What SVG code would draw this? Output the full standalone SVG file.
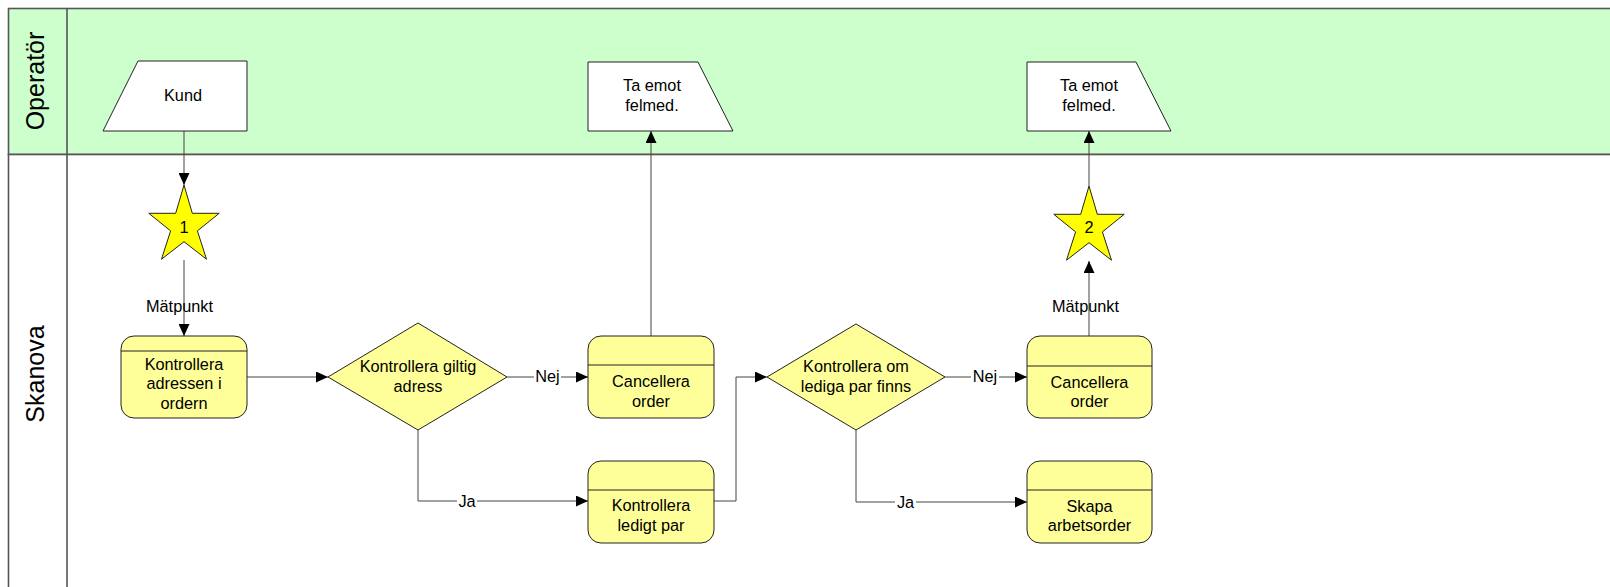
<svg xmlns="http://www.w3.org/2000/svg" xmlns:xlink="http://www.w3.org/1999/xlink" width="1610" height="587" viewBox="0 0 1610 587">
  <style>
    text { font-family: "Liberation Sans", Arial, sans-serif; font-size: 16.3px; fill: #000; text-anchor: middle; }
    .lane-title { font-size: 25px; }
    .lane { stroke: #555; stroke-width: 1.6; }
    .proc { fill: #FFFF99; stroke: #222; stroke-width: 1; }
    .div { stroke: #222; stroke-width: 1; }
    .dec { fill: #FFFF99; stroke: #222; stroke-width: 1; }
    .io { fill: #FFFFFF; stroke: #222; stroke-width: 1; }
    .star { fill: #FFFF00; stroke: #222; stroke-width: 1; }
    .conn { fill: none; stroke: #444; stroke-width: 1; marker-end: url(#arrow); }
    .plain { fill: none; stroke: #444; stroke-width: 1; }
    .lblbg { fill: #FFFFFF; }
  </style>
  <defs>
    <marker id="arrow" markerUnits="userSpaceOnUse" markerWidth="12" markerHeight="11" refX="12" refY="5.5" orient="auto">
      <path d="M0,0 L12,5.5 L0,11 Z" fill="#000"/>
    </marker>
    <polygon id="starShape" points="0,-41 8.3,-12.7 35.2,-12.7 13.4,4.9 22.5,33.2 0,15.7 -22.5,33.2 -13.4,4.9 -35.2,-12.7 -8.3,-12.7"/>
  </defs>

  <rect x="0" y="0" width="1610" height="587" fill="#FFFFFF"/>

  <!-- swimlanes -->
  <g id="lanes">
    <rect x="8.5" y="8.5" width="1620" height="146" fill="#CCFFCC" class="lane"/>
    <rect x="8.5" y="154.5" width="1620" height="450" fill="#FFFFFF" class="lane"/>
    <line x1="67" y1="8.5" x2="67" y2="600" class="lane"/>
    <text class="lane-title" transform="translate(44,81) rotate(-90)">Operatör</text>
    <text class="lane-title" transform="translate(44,374) rotate(-90)">Skanova</text>
  </g>

  <!-- connectors -->
  <g id="connectors">
    <path class="conn" d="M184,131 L184,185"/>
    <path class="conn" d="M184,260 L184,336"/>
    <path class="conn" d="M247,377 L328,377"/>
    <path class="conn" d="M507,377 L588,377"/>
    <path class="conn" d="M418,430 L418,501 L588,501"/>
    <path class="conn" d="M651,336 L651,131"/>
    <path class="conn" d="M714,501 L736,501 L736,377 L767,377"/>
    <path class="conn" d="M945,377 L1027,377"/>
    <path class="conn" d="M856,430 L856,502 L1027,502"/>
    <path class="conn" d="M1089,336 L1089,261"/>
    <path class="conn" d="M1089,186 L1089,131"/>

    <text x="179.5" y="312">Mätpunkt</text>
    <text x="1085.5" y="312">Mätpunkt</text>
    <rect class="lblbg" x="534" y="369" width="27" height="16"/>
    <text x="547.5" y="382">Nej</text>
    <rect class="lblbg" x="971" y="369" width="28" height="16"/>
    <text x="985" y="382">Nej</text>
    <rect class="lblbg" x="457" y="493" width="20" height="16"/>
    <text x="467" y="507">Ja</text>
    <rect class="lblbg" x="895" y="494" width="21" height="16"/>
    <text x="905.5" y="508">Ja</text>
  </g>

  <!-- Operatör lane -->
  <g id="kund">
    <polygon class="io" points="138,61 247,61 247,131 103,131"/>
    <text x="183" y="101">Kund</text>
  </g>
  <g id="felmed1">
    <polygon class="io" points="588,62 698,62 733,131 588,131"/>
    <text x="652" y="91">Ta emot</text>
    <text x="652" y="111">felmed.</text>
  </g>
  <g id="felmed2">
    <polygon class="io" points="1027,62 1136,62 1171,131 1027,131"/>
    <text x="1089" y="91">Ta emot</text>
    <text x="1089" y="111">felmed.</text>
  </g>

  <!-- Skanova lane -->
  <g id="matpunkt1">
    <use xlink:href="#starShape" class="star" transform="translate(184,226)"/>
    <text x="184" y="232.5">1</text>
  </g>
  <g id="matpunkt2">
    <use xlink:href="#starShape" class="star" transform="translate(1089,227)"/>
    <text x="1089" y="233">2</text>
  </g>

  <g id="kontrollera-adress">
    <rect class="proc" x="121" y="336" width="126" height="82" rx="13"/>
    <line class="div" x1="121" y1="351" x2="247" y2="351"/>
    <text x="184" y="369.5">Kontrollera</text>
    <text x="184" y="389">adressen i</text>
    <text x="184" y="408.5">ordern</text>
  </g>

  <g id="giltig-adress">
    <polygon class="dec" points="328,377 418,323 507,377 418,430"/>
    <text x="418" y="372">Kontrollera giltig</text>
    <text x="418" y="391.5">adress</text>
  </g>

  <g id="cancellera1">
    <rect class="proc" x="588" y="336" width="126" height="82" rx="13"/>
    <line class="div" x1="588" y1="365" x2="714" y2="365"/>
    <text x="651" y="387">Cancellera</text>
    <text x="651" y="406.5">order</text>
  </g>

  <g id="ledigt-par">
    <rect class="proc" x="588" y="461" width="126" height="82" rx="13"/>
    <line class="div" x1="588" y1="490" x2="714" y2="490"/>
    <text x="651" y="511">Kontrollera</text>
    <text x="651" y="530.5">ledigt par</text>
  </g>

  <g id="lediga-par">
    <polygon class="dec" points="767,377 856,324 945,377 856,430"/>
    <text x="856" y="372">Kontrollera om</text>
    <text x="856" y="391.5">lediga par finns</text>
  </g>

  <g id="cancellera2">
    <rect class="proc" x="1027" y="336" width="125" height="82" rx="13"/>
    <line class="div" x1="1027" y1="366" x2="1152" y2="366"/>
    <text x="1089.5" y="387.5">Cancellera</text>
    <text x="1089.5" y="406.5">order</text>
  </g>

  <g id="arbetsorder">
    <rect class="proc" x="1027" y="461" width="125" height="82" rx="13"/>
    <line class="div" x1="1027" y1="490" x2="1152" y2="490"/>
    <text x="1089.5" y="511.5">Skapa</text>
    <text x="1089.5" y="531">arbetsorder</text>
  </g>
</svg>
